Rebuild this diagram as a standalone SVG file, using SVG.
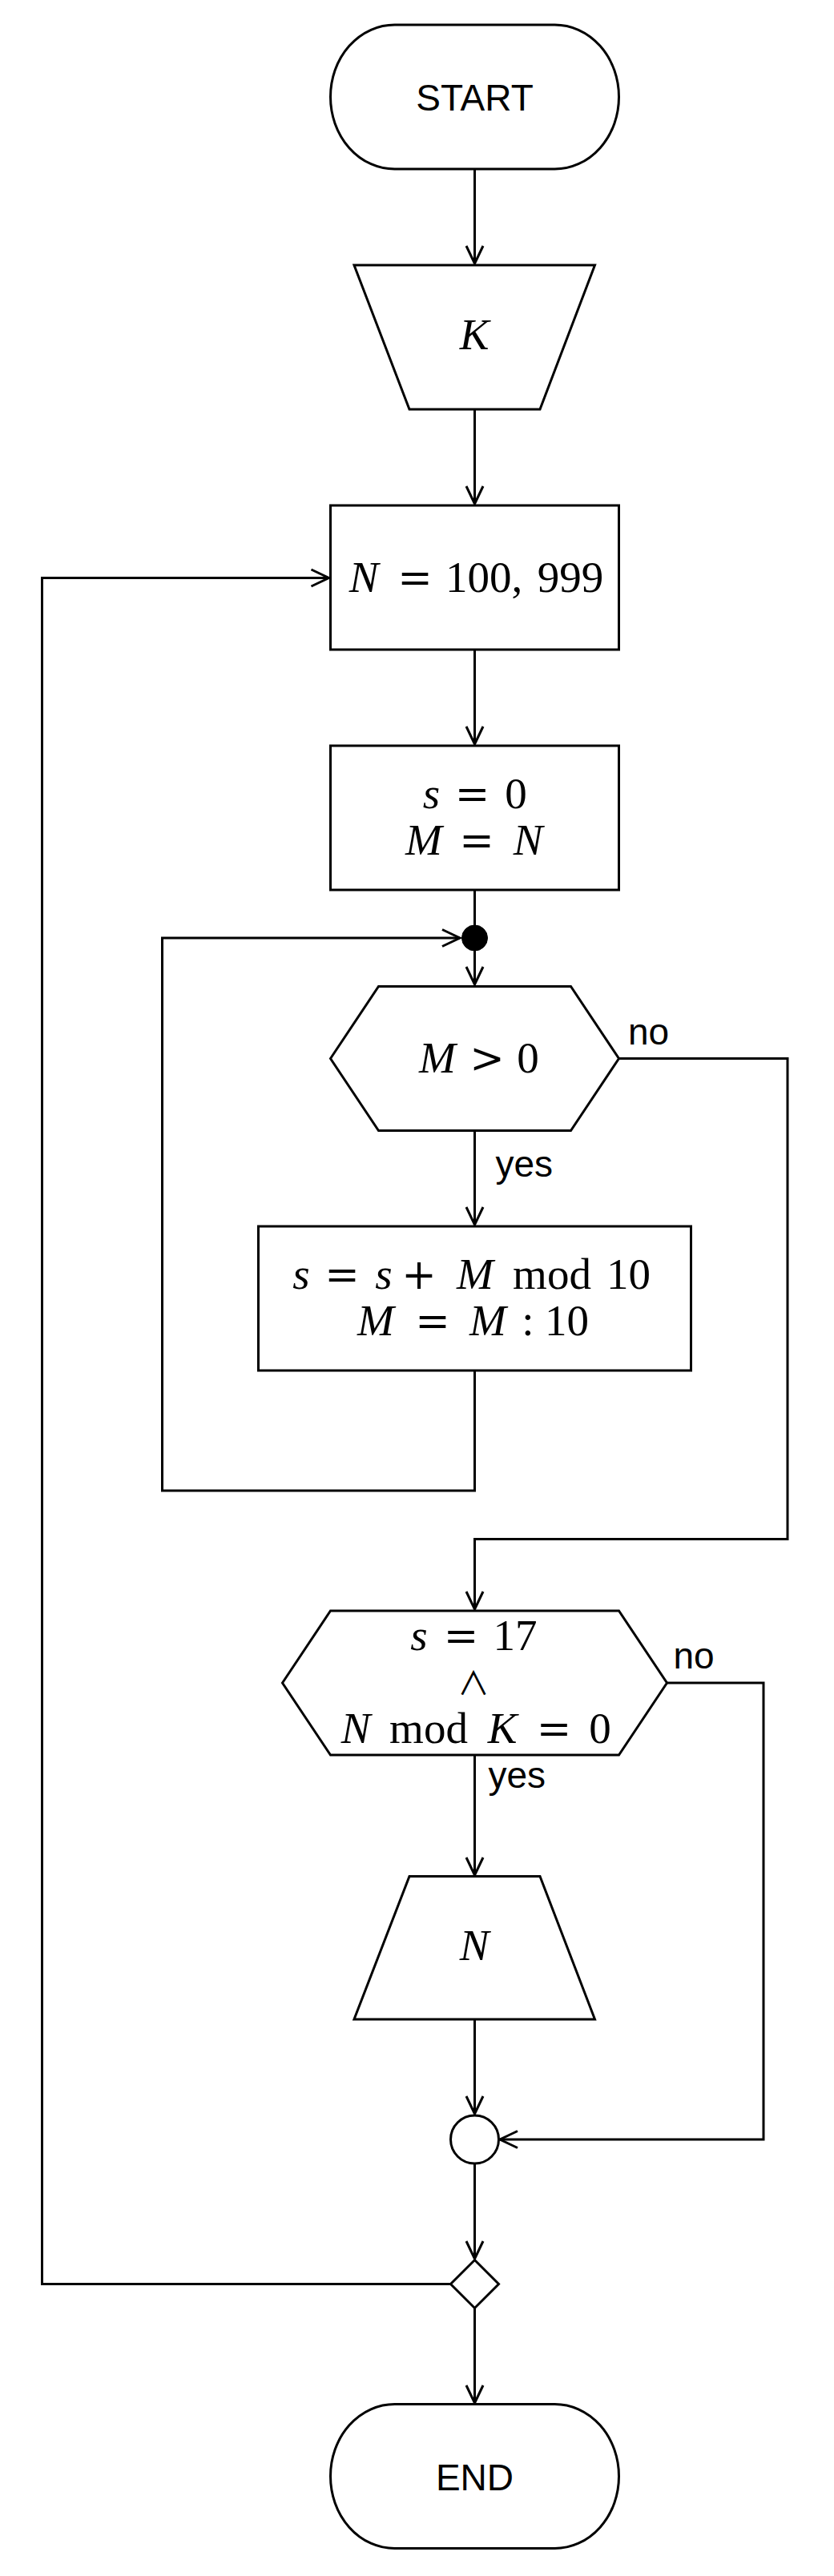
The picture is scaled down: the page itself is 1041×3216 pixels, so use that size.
<svg xmlns="http://www.w3.org/2000/svg" width="1041" height="3216" viewBox="0 0 1041 3216">
<defs>
<marker id="arr" markerUnits="userSpaceOnUse" markerWidth="30" markerHeight="30" viewBox="-26 -13 30 26" refX="0" refY="0" orient="auto" overflow="visible">
<path d="M-22,-10.5 L0,0 L-22,10.5" fill="none" stroke="#000" stroke-width="3"/>
</marker>
</defs>
<style>
.s{fill:#fff;stroke:#000;stroke-width:3}
.c{fill:none;stroke:#000;stroke-width:3}
.a{marker-end:url(#arr)}
.t{font-family:"Liberation Sans",Arial,sans-serif;font-size:46px;fill:#000}
.m{font-family:"Liberation Serif","Times New Roman",serif;font-size:55px;fill:#000;text-anchor:middle}
.i{font-style:italic}
.o{font-family:"DejaVu Serif",serif;font-size:52px}
.w{font-family:"Noto Sans CJK JP","Noto Sans CJK SC",sans-serif;font-size:40px}
</style>
<rect width="1041" height="3216" fill="#fff"/>
<g id="connectors">
<path class="c a" d="M592.5,211 V329"/>
<path class="c a" d="M592.5,511 V629"/>
<path class="c a" d="M592.5,811 V929"/>
<path class="c" d="M592.5,1111 V1160"/>
<path class="c a" d="M592.5,1187 V1229"/>
<path class="c a" d="M592.5,1411.5 V1529"/>
<path class="c a" d="M592.5,1711 V1861 H202.5 V1171 H574"/>
<path class="c a" d="M772.5,1321.5 H983 V1921.5 H592.5 V2009"/>
<path class="c a" d="M592.5,2191 V2341"/>
<path class="c a" d="M832.5,2101 H953 V2671 H624"/>
<path class="c a" d="M592.5,2521 V2639"/>
<path class="c a" d="M592.5,2701 V2820"/>
<path class="c a" d="M562.5,2851.5 H52.5 V721.5 H410.5"/>
<path class="c a" d="M592.5,2881.5 V3000"/>
<text class="t" x="784" y="1304">no</text>
<text class="t" x="618.5" y="1469">yes</text>
<text class="t" x="840.5" y="2083">no</text>
<text class="t" x="609.5" y="2232">yes</text>
</g>
<g id="start">
<rect class="s" x="412.5" y="31" width="360" height="180" rx="80" ry="90"/>
<text class="t" x="592.5" y="137.5" text-anchor="middle">START</text>
</g>
<g id="input-k">
<polygon class="s" points="442,331 742.5,331 674,511 511,511"/>
<text class="m" y="436"><tspan class="i" x="592">K</tspan></text>
</g>
<g id="set-n">
<rect class="s" x="412.5" y="631" width="360" height="180"/>
<text class="m"><tspan class="i" x="454" y="739">N</tspan><tspan class="o" x="518" y="739">=</tspan><tspan x="604" y="739">100,</tspan><tspan x="712" y="739">999</tspan></text>
</g>
<g id="init">
<rect class="s" x="412.5" y="931" width="360" height="180"/>
<text class="m"><tspan class="i" x="538.5" y="1009">s</tspan><tspan class="o" x="589.5" y="1009">=</tspan><tspan x="644" y="1009">0</tspan><tspan class="i" x="529" y="1067">M</tspan><tspan class="o" x="595" y="1067">=</tspan><tspan class="i" x="659" y="1067">N</tspan></text>
</g>
<g id="junction">
<circle cx="592.5" cy="1171" r="16" fill="#000" stroke="#000" stroke-width="1"/>
</g>
<g id="cond-m">
<polygon class="s" points="412.5,1321.5 472.5,1231.5 712.5,1231.5 772.5,1321.5 712.5,1411.5 472.5,1411.5"/>
<text class="m"><tspan class="i" x="546" y="1339">M</tspan><tspan class="o" x="608" y="1339">&gt;</tspan><tspan x="659" y="1339">0</tspan></text>
</g>
<g id="digit-step">
<rect class="s" x="322.5" y="1531" width="540" height="180"/>
<text class="m"><tspan class="i" x="376" y="1609">s</tspan><tspan class="o" x="427" y="1609">=</tspan><tspan class="i" x="479" y="1609">s</tspan><tspan class="o" x="523" y="1609">+</tspan><tspan class="i" x="593" y="1609">M</tspan><tspan x="689" y="1609">mod</tspan><tspan x="784.5" y="1609">10</tspan><tspan class="i" x="469" y="1667">M</tspan><tspan class="o" x="540" y="1667">=</tspan><tspan class="i" x="609" y="1667">M</tspan><tspan x="659" y="1667">:</tspan><tspan x="707.5" y="1667">10</tspan></text>
</g>
<g id="cond-s">
<polygon class="s" points="352.5,2101 412.5,2011 772.5,2011 832.5,2101 772.5,2191 412.5,2191"/>
<text class="m"><tspan class="i" x="523" y="2060">s</tspan><tspan class="o" x="575.5" y="2060">=</tspan><tspan x="643" y="2060">17</tspan><tspan class="w" x="591" y="2116">∧</tspan><tspan class="i" x="444" y="2176">N</tspan><tspan x="535" y="2176">mod</tspan><tspan class="i" x="627" y="2176">K</tspan><tspan class="o" x="691.5" y="2176">=</tspan><tspan x="749" y="2176">0</tspan></text>
</g>
<g id="output-n">
<polygon class="s" points="511,2342.5 674,2342.5 742.5,2521 442,2521"/>
<text class="m" y="2447"><tspan class="i" x="592">N</tspan></text>
</g>
<g id="merge">
<circle class="s" cx="592.5" cy="2671" r="30"/>
</g>
<g id="loop-end">
<polygon class="s" points="592.5,2821.5 622.5,2851.5 592.5,2881.5 562.5,2851.5"/>
</g>
<g id="end">
<rect class="s" x="412.5" y="3001.5" width="360" height="180" rx="80" ry="90"/>
<text class="t" x="592.5" y="3108.5" text-anchor="middle">END</text>
</g>
</svg>
